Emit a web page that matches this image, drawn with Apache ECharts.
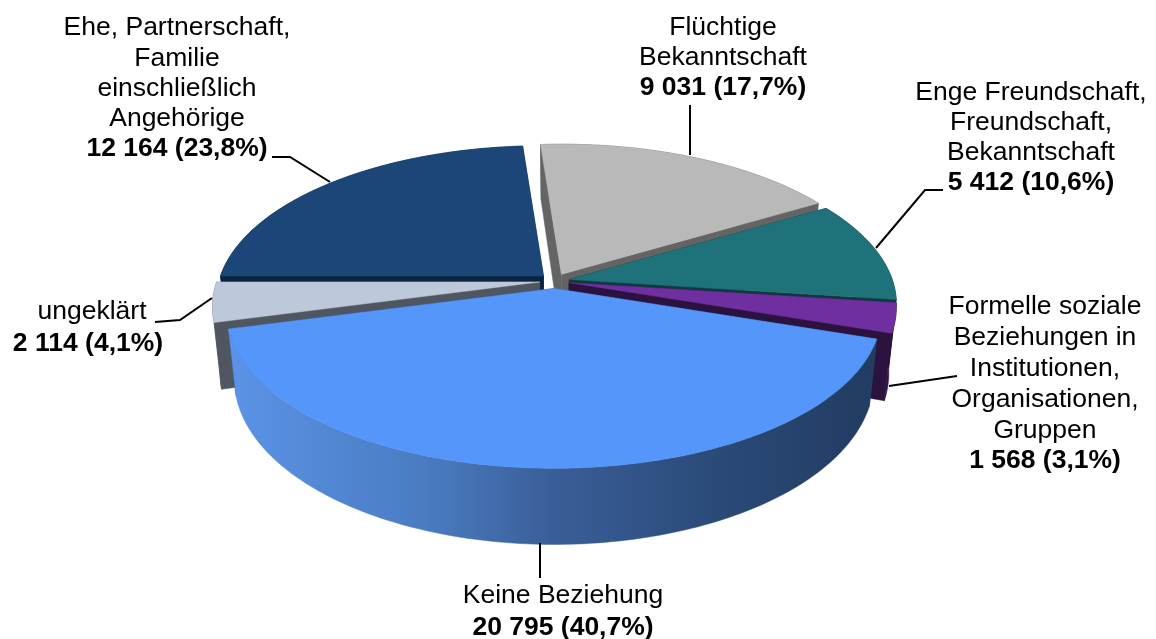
<!DOCTYPE html>
<html><head><meta charset="utf-8">
<style>html,body{margin:0;padding:0;background:#fff}#c{width:1156px;height:639px}</style>
<script src="https://cdn.jsdelivr.net/npm/echarts@6/dist/echarts.min.js"></script>
</head><body><div id="c"></div>
<script>
const categories = [
  ['Flüchtige','Bekanntschaft'],
  ['Enge Freundschaft,','Freundschaft,','Bekanntschaft'],
  ['Formelle soziale','Beziehungen in','Institutionen,','Organisationen,','Gruppen'],
  ['Keine Beziehung'],
  ['ungeklärt'],
  ['Ehe, Partnerschaft,','Familie','einschließlich','Angehörige']
];
const values = [9031, 5412, 1568, 20795, 2114, 12164];
const valueLabels = ['9 031 (17,7%)','5 412 (10,6%)','1 568 (3,1%)','20 795 (40,7%)','2 114 (4,1%)','12 164 (23,8%)'];

const topColors  = ['#b9b9b9','#1f727a','#702fa0','#5596fb','#bdc8db','#1c4678'];
const wallColors = ['#646464','#0c3a3e','#2c123f',null,'#4f5660','#0b2340'];
const drawRank   = [1,2,4,5,3,0];
const labelBoxes = [
  {x:723,y:28,lh:29.6},{x:1031,y:93,lh:30},{x:1045,y:307,lh:30.8},
  {x:563,y:596,lh:32},{x:92,y:312,lh:32,bx:88},{x:177,y:28,lh:30.2}
];
const leaders = [
  [[690,105],[690,155]],
  [[943,190],[925,190],[876,248]],
  [[957,376],[889,386]],
  [[540,543],[540,578]],
  [[155,322],[180,320],[212,298]],
  [[272,157],[290,157],[330,182]]
];
const FONT = '"Liberation Sans", Arial, sans-serif';
const FS = 26.5;

const cx=554.5, cy=281, a=323, b=151, k=0.16, explode=15, depth=64, shrink=0.977, startDeg=-4.3;
const total = values.reduce((s,v)=>s+v,0);
const rad = d=>d*Math.PI/180;
const persp = t=>1/(1-k*(-Math.cos(t)));
function sliceGeom(i){
  let acc=0; for(let j=0;j<i;j++) acc+=values[j];
  const t1=startDeg+acc/total*360, t2=t1+values[i]/total*360, mid=rad((t1+t2)/2);
  const ax=cx+explode*Math.sin(mid), ay=cy-explode*0.5*Math.cos(mid);
  const top=t=>{const s=persp(t);return [ax+a*s*Math.sin(t), ay-b*s*Math.cos(t)];};
  const low=(p,s)=>[ax+(p[0]-ax)*shrink, p[1]+depth*s];
  const arc=[]; const n=Math.max(2,Math.ceil(t2-t1));
  for(let q=0;q<=n;q++){arc.push(rad(t1+(t2-t1)*q/n));}
  return {t1,t2,ax,ay,top,low,arc};
}
function poly(points,fill,z2){
  return {type:'polygon',z2,shape:{points},style:{fill,stroke:fill,lineWidth:0.5}};
}
function renderItem(params){
  const i=params.dataIndex, g=sliceGeom(i), r=drawRank[i]*10, ch=[];
  const apex=[g.ax,g.ay], apexLow=[g.ax,g.ay+depth];
  const rim=g.arc.map(g.top);
  const rimLow=g.arc.map((t,q)=>g.low(rim[q],persp(t)));
  const wall=wallColors[i];
  const cutFill = wall || '#2a4a78';
  ch.push(poly([apex,rim[0],rimLow[0],apexLow],cutFill,r));
  ch.push(poly([apex,rim[rim.length-1],rimLow[rimLow.length-1],apexLow],cutFill,r));
  const outerFill = wall || {type:'linear',x:228,y:0,x2:877,y2:0,global:true,colorStops:[
    {offset:0,color:'#5b93e6'},{offset:0.3,color:'#4a7cc2'},{offset:0.5,color:'#3a5e98'},
    {offset:0.75,color:'#2a4a78'},{offset:1,color:'#223c62'}]};
  ch.push(poly(rim.concat(rimLow.slice().reverse()),outerFill,r+1));
  ch.push(poly([apex].concat(rim),topColors[i],r+2));
  // leader + label
  ch.push({type:'polyline',z2:100,shape:{points:leaders[i]},style:{stroke:'#000',lineWidth:2,fill:null}});
  const L=labelBoxes[i], lines=categories[i];
  lines.forEach((t,q)=>ch.push({type:'text',z2:101,style:{text:t,x:L.x,y:L.y+q*L.lh,align:'center',verticalAlign:'middle',font:FS+'px '+FONT,fill:'#000'}}));
  ch.push({type:'text',z2:101,style:{text:valueLabels[i],x:L.bx||L.x,y:L.y+lines.length*L.lh,align:'center',verticalAlign:'middle',font:'bold '+FS+'px '+FONT,fill:'#000'}});
  return {type:'group',children:ch};
}
const chart=echarts.init(document.getElementById('c'),null,{renderer:'canvas'});
chart.setOption({
  animation:false,
  backgroundColor:'#fff',
  series:[{type:'custom',coordinateSystem:'none',silent:true,renderItem,data:values.map(v=>[v])}]
});
</script></body></html>
